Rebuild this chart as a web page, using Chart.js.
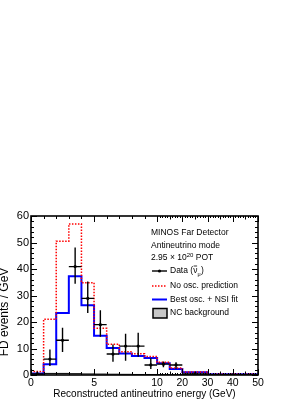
<!DOCTYPE html>
<html>
<head>
<meta charset="utf-8">
<script src="https://cdn.jsdelivr.net/npm/chart.js@4.4.0/dist/chart.umd.min.js"></script>
<style>
html,body{margin:0;padding:0;background:#fff;}
#c{display:block;}
</style>
</head>
<body>
<canvas id="c" width="299" height="404"></canvas>
<script>
// ---- data (values per GeV) ----
const binEdges = [0,1,2,3,4,5,6,7,8,9,10,15,20,30,50];
const noOscPrediction = [1.3, 21, 50.5, 57, 34.8, 17.6, 11.6, 8.8, 8.0, 7.0, 4.8, 2.6, 1.1, 0.3];
const bestOscNsiFit   = [0.6, 4.1, 23.4, 37.3, 26.3, 14.8, 10.2, 8.1, 7.2, 6.4, 4.4, 2.3, 1.0, 0.25];
const ncBackground    = [0.5, 0.6, 0.6, 0.5, 0.4, 0.35, 0.3, 0.25, 0.2, 0.2, 0.15, 0.1, 0.05, 0.02];
const dataValues      = [0.4, 6.0, 13.1, 40.9, 28.9, 19.0, 7.9, 10.9, 10.9, 3.8, 4.1, 3.8, 0.4, 0.05];
const dataErrLow      = [0.4, 2.6, 4.4, 6.5, 5.5, 4.6, 2.9, 5.5, 4.0, 1.5, 1.2, 1.3, 0.3, 0.05];
const dataErrHigh     = [0.9, 3.6, 4.7, 7.2, 6.4, 5.4, 3.6, 4.7, 5.0, 2.5, 1.0, 1.0, 0.4, 0.2];
const xTickEnergies   = [0, 5, 10, 20, 30, 40, 50];
const yTicks          = [0, 10, 20, 30, 40, 50, 60];

// split energy axis: linear 0-10, compressed 10-50
function eToU(e){ return e <= 10 ? e : 10 + (e - 10) / 5; }
function uToE(u){ return u <= 10 ? u : 10 + (u - 10) * 5; }

function histPoints(vals){
  const pts = [{x: eToU(binEdges[0]), y: 0}];
  for (let i = 0; i < vals.length; i++){
    pts.push({x: eToU(binEdges[i]), y: vals[i]});
    pts.push({x: eToU(binEdges[i+1]), y: vals[i]});
  }
  pts.push({x: eToU(binEdges[binEdges.length-1]), y: 0});
  return pts;
}
const dataPoints = dataValues.map((v,i)=>({x: eToU((binEdges[i]+binEdges[i+1])/2), y: v}));

const FONT = '"Liberation Sans", Arial, Helvetica, sans-serif';

const errorBarPlugin = {
  id: 'errbars',
  afterDatasetsDraw(chart){
    const {ctx, scales:{x, y}} = chart;
    ctx.save();
    ctx.beginPath();
    ctx.rect(chart.chartArea.left, chart.chartArea.top, chart.chartArea.right-chart.chartArea.left, chart.chartArea.bottom-chart.chartArea.top);
    ctx.clip();
    ctx.strokeStyle = '#000';
    ctx.lineWidth = 1.4;
    for (let i = 0; i < dataValues.length; i++){
      const x0 = x.getPixelForValue(eToU(binEdges[i]));
      const x1 = x.getPixelForValue(eToU(binEdges[i+1]));
      const xc = x.getPixelForValue(dataPoints[i].x);
      const yc = y.getPixelForValue(dataValues[i]);
      const yl = y.getPixelForValue(dataValues[i]-dataErrLow[i]);
      const yh = y.getPixelForValue(dataValues[i]+dataErrHigh[i]);
      ctx.beginPath();
      ctx.moveTo(x0, yc); ctx.lineTo(x1, yc);
      ctx.moveTo(xc, yl); ctx.lineTo(xc, yh);
      ctx.stroke();
    }
    ctx.restore();
  }
};

const framePlugin = {
  id: 'frame',
  afterDraw(chart){
    const {ctx, chartArea:a, scales:{x, y}} = chart;
    ctx.save();
    ctx.strokeStyle = '#000';
    ctx.lineWidth = 1;
    ctx.beginPath();
    // y ticks (left and right, inward)
    for (let v = 0; v <= 60; v += 2){
      const py = Math.round(y.getPixelForValue(v)) + 0.5;
      const len = v % 10 === 0 ? 6 : 3;
      ctx.moveTo(a.left, py); ctx.lineTo(a.left + len, py);
      ctx.moveTo(a.right, py); ctx.lineTo(a.right - len, py);
    }
    // x ticks (bottom and top, inward)
    for (let e = 0; e <= 50; e += 1){
      let len;
      if (e <= 10) len = (e % 5 === 0) ? 6 : 3;
      else len = (e % 10 === 0) ? 6 : (e % 5 === 0 ? 3.5 : 2);
      const px = Math.round(x.getPixelForValue(eToU(e))) + 0.5;
      ctx.moveTo(px, a.bottom); ctx.lineTo(px, a.bottom - len);
      ctx.moveTo(px, a.top); ctx.lineTo(px, a.top + len);
    }
    ctx.stroke();
    ctx.lineWidth = 1.6;
    ctx.strokeRect(a.left, a.top, a.right - a.left, a.bottom - a.top);

    // y axis title
    ctx.fillStyle = '#000';
    ctx.save();
    ctx.translate(5, 312);
    ctx.rotate(-Math.PI/2);
    ctx.font = '12px ' + FONT;
    ctx.textAlign = 'center';
    ctx.textBaseline = 'middle';
    ctx.fillText('FD events / GeV', 0, 0);
    ctx.restore();

    // text box + legend
    ctx.font = '8.5px ' + FONT;
    ctx.textAlign = 'left';
    ctx.textBaseline = 'middle';
    ctx.fillText('MINOS Far Detector', 151, 233);
    ctx.fillText('Antineutrino mode', 151, 246);
    let t = '2.95 \u00d7 10';
    ctx.fillText(t, 151, 258);
    let w = ctx.measureText(t).width;
    ctx.font = '6px ' + FONT;
    ctx.fillText('20', 151 + w, 255);
    let w2 = ctx.measureText('20').width;
    ctx.font = '8.5px ' + FONT;
    ctx.fillText(' POT', 151 + w + w2, 258);

    // Data entry
    ctx.lineWidth = 1.4;
    ctx.beginPath(); ctx.moveTo(152, 271); ctx.lineTo(167, 271); ctx.stroke();
    ctx.beginPath(); ctx.arc(159.5, 271, 1.6, 0, Math.PI*2); ctx.fill();
    t = 'Data (';
    ctx.fillText(t, 170, 271);
    w = ctx.measureText(t).width;
    ctx.fillText('\u03bd', 170 + w, 271);
    const nw = ctx.measureText('\u03bd').width;
    ctx.lineWidth = 0.8;
    ctx.beginPath(); ctx.moveTo(170 + w + 0.5, 266); ctx.lineTo(170 + w + nw - 0.3, 266); ctx.stroke();
    ctx.font = '5.5px ' + FONT;
    ctx.fillText('\u03bc', 170 + w + nw, 274);
    w2 = ctx.measureText('\u03bc').width;
    ctx.font = '8.5px ' + FONT;
    ctx.fillText(')', 170 + w + nw + w2 + 0.5, 271);

    // No osc
    ctx.strokeStyle = '#ff0000';
    ctx.lineWidth = 1.4;
    ctx.setLineDash([1.5, 1.5]);
    ctx.beginPath(); ctx.moveTo(152, 286); ctx.lineTo(167, 286); ctx.stroke();
    ctx.setLineDash([]);
    ctx.fillText('No osc. prediction', 170, 286);
    // best fit
    ctx.strokeStyle = '#0000ff';
    ctx.lineWidth = 2;
    ctx.beginPath(); ctx.moveTo(152, 299.5); ctx.lineTo(167, 299.5); ctx.stroke();
    ctx.fillText('Best osc. + NSI fit', 170, 300);
    // NC
    ctx.fillStyle = '#c8c8c8';
    ctx.fillRect(153, 308.5, 14, 9.5);
    ctx.strokeStyle = '#000';
    ctx.lineWidth = 1.5;
    ctx.strokeRect(153, 308.5, 14, 9.5);
    ctx.fillStyle = '#000';
    ctx.fillText('NC background', 170, 313);
    ctx.restore();
  }
};

new Chart(document.getElementById('c'), {
  type: 'line',
  data: {
    datasets: [
      {
        label: 'Data',
        type: 'scatter',
        data: dataPoints,
        showLine: false,
        pointRadius: 1.6,
        pointBackgroundColor: '#000',
        pointBorderWidth: 0,
        order: 0
      },
      {
        label: 'No osc. prediction',
        data: histPoints(noOscPrediction),
        borderColor: '#ff0000',
        borderWidth: 1.5,
        borderDash: [1.5, 1.5],
        pointRadius: 0,
        tension: 0,
        fill: false,
        order: 1
      },
      {
        label: 'Best osc. + NSI fit',
        data: histPoints(bestOscNsiFit),
        borderColor: '#0000ff',
        borderWidth: 2,
        pointRadius: 0,
        tension: 0,
        fill: false,
        order: 2
      },
      {
        label: 'NC background',
        data: histPoints(ncBackground),
        borderColor: '#000',
        borderWidth: 1,
        backgroundColor: '#c8c8c8',
        pointRadius: 0,
        tension: 0,
        fill: 'origin',
        order: 3
      }
    ]
  },
  options: {
    responsive: false,
    animation: false,
    events: [],
    layout: { padding: { top: 216, right: 41, left: 0, bottom: 0 } },
    plugins: { legend: { display: false }, tooltip: { enabled: false } },
    scales: {
      x: {
        type: 'linear',
        min: 0, max: 18,
        afterBuildTicks(scale){ scale.ticks = xTickEnergies.map(e => ({value: eToU(e)})); },
        afterFit(scale){ scale.height = 29; },
        ticks: {
          autoSkip: false, maxRotation: 0, padding: 2,
          color: '#000',
          font: { size: 10.5, family: FONT },
          callback(v){ return String(Math.round(uToE(v))); }
        },
        grid: { display: false, drawTicks: false },
        border: { display: false },
        title: {
          display: true,
          text: 'Reconstructed antineutrino energy (GeV)',
          color: '#000',
          font: { size: 10, family: FONT },
          padding: { top: 0, bottom: 4 }
        }
      },
      y: {
        min: 0, max: 60,
        afterBuildTicks(scale){ scale.ticks = yTicks.map(v => ({value: v})); },
        afterFit(scale){ scale.width = 31; },
        ticks: {
          padding: 2,
          color: '#000',
          font: { size: 11, family: FONT }
        },
        grid: { display: false, drawTicks: false },
        border: { display: false }
      }
    }
  },
  plugins: [errorBarPlugin, framePlugin]
});
</script>
</body>
</html>
